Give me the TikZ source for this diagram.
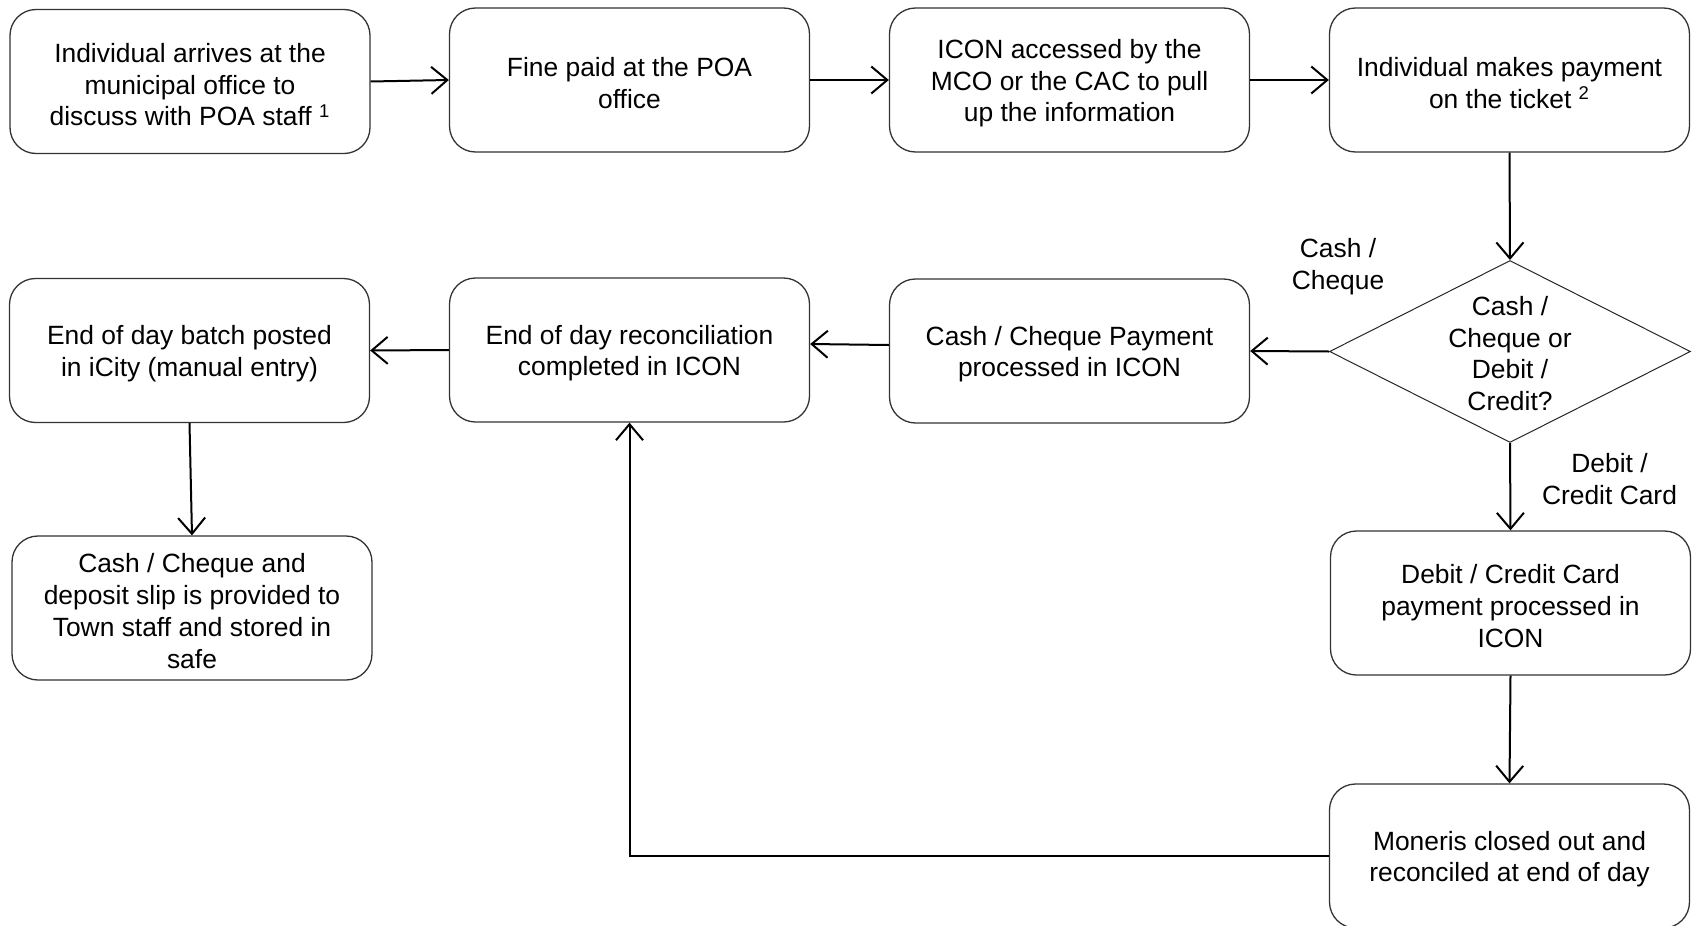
\documentclass[tikz,border=0pt]{standalone}
\usepackage{fontspec}
\setmainfont{Liberation Sans}
\usetikzlibrary{arrows.meta,shapes.geometric}
% extra room above the first line, so each text block sits a little lower
\newcommand\boxstrut{\rule{0pt}{12.8pt}}
\begin{document}
\begin{tikzpicture}[x=0.5pt,y=-0.5pt,
  every node/.style={font=\fontsize{13.2}{15.9}\selectfont, align=center},
  stepbox/.style={draw=black!80, line width=0.65pt, rounded corners=13pt,
    minimum width=180pt, minimum height=72pt, inner sep=2pt},
  decision/.style={draw=black!85, line width=0.5pt, diamond,
    minimum width=180.5pt, minimum height=91pt, inner sep=0pt},
  flow/.style={line width=1pt, -{Straight Barb[length=8pt,width=13.5pt,line width=1pt]}},
  lbl/.style={inner sep=0pt}]
\useasboundingbox (0,0) rectangle (1692,926);

% top row
\node[stepbox] (b1) at (190,81.5) {\boxstrut Individual arrives at the\\municipal office to\\discuss with POA staff \textsuperscript{1}};
\node[stepbox] (b2) at (629.5,80) {\boxstrut Fine paid at the POA\\office};
\node[stepbox] (b3) at (1069.5,80) {\boxstrut ICON accessed by the\\MCO or the CAC to pull\\up the information};
\node[stepbox] (b4) at (1509.5,80) {\boxstrut Individual makes payment\\on the ticket \textsuperscript{2}};

% middle row
\node[stepbox] (b5) at (189.5,350.5) {\boxstrut End of day batch posted\\in iCity (manual entry)};
\node[stepbox] (b6) at (629.5,350) {\boxstrut End of day reconciliation\\completed in ICON};
\node[stepbox] (b7) at (1069.5,351) {\boxstrut Cash / Cheque Payment\\processed in ICON};
\node[decision] (dia) at (1510,351.5) {};
\node[lbl] (diatext) at ([yshift=-1pt]dia.center) {Cash /\\Cheque or\\Debit /\\Credit?};

% lower rows
\node[stepbox] (b8) at (192,608) {\boxstrut Cash / Cheque and\\deposit slip is provided to\\Town staff and stored in\\safe};
\node[stepbox] (b9) at (1510.5,603) {\boxstrut Debit / Credit Card\\payment processed in\\ICON};
\node[stepbox] (b10) at (1509.5,856) {\boxstrut Moneris closed out and\\reconciled at end of day};

% branch labels
\node[lbl] (lcash) at (1338,267) {Cash /\\Cheque};
\node[lbl] (lcard) at (1609.5,479) {Debit /\\Credit Card};

% connectors
\draw[flow] (b1.east) -- (b2.west);
\draw[flow] (b2.east) -- (b3.west);
\draw[flow] (b3.east) -- (b4.west);
\draw[flow] (b4.south) -- (dia.north);
\draw[flow] (dia.west) -- (b7.east);
\draw[flow] ([yshift=3pt]b7.west) -- ([yshift=3pt]b6.east);
\draw[flow] (b6.west) -- (b5.east);
\draw[flow] (b5.south) -- (b8.north);
\draw[flow] (dia.south) -- (b9.north);
\draw[flow] (b9.south) -- (b10.north);
\draw[flow] (b10.west) -| (b6.south);
\end{tikzpicture}
\end{document}
